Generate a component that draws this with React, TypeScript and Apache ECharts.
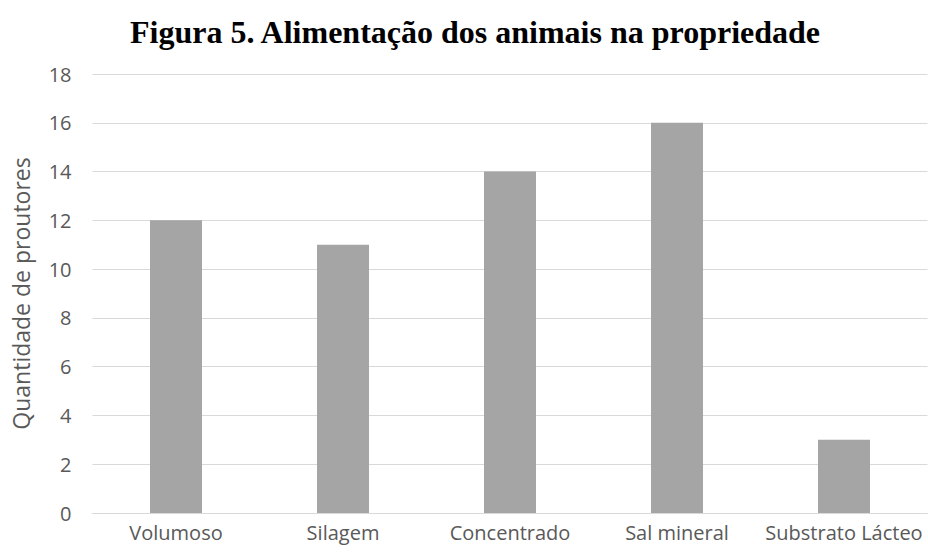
import React, { useEffect, useRef } from "react";
import * as echarts from "echarts";

const categories = ["Volumoso", "Silagem", "Concentrado", "Sal mineral", "Substrato Lácteo"];
const values = [12, 11, 14, 16, 3];
const titleText = "Figura 5. Alimentação dos animais na propriedade";
const yAxisName = "Quantidade de proutores";

export default function App() {
  const ref = useRef<HTMLDivElement>(null);
  useEffect(() => {
    const chart = echarts.init(ref.current!, undefined, { renderer: "svg" });
    const font = "'Open Sans', 'Noto Sans', sans-serif";
    chart.setOption({
      animation: false,
      backgroundColor: "#ffffff",
      title: {
        text: titleText,
        left: 470,
        textAlign: "center",
        top: 11,
        textStyle: { fontFamily: "'Liberation Serif', 'Times New Roman', serif", fontWeight: "bold", fontSize: 32, color: "#000000" },
      },
      grid: { left: 92.5, right: 0.5, top: 74, bottom: 40, containLabel: false },
      xAxis: {
        type: "category",
        data: categories,
        axisLine: { lineStyle: { color: "#d9d9d9", width: 1 } },
        axisTick: { show: false },
        axisLabel: { color: "#595959", fontSize: 20, fontFamily: font, margin: 9, interval: 0 },
      },
      yAxis: {
        type: "value",
        min: 0,
        max: 18,
        interval: 2,
        name: yAxisName,
        nameLocation: "middle",
        nameGap: 60,
        nameTextStyle: { color: "#595959", fontSize: 23, fontFamily: font },
        axisLine: { show: false },
        axisTick: { show: false },
        axisLabel: { color: "#595959", fontSize: 20, fontFamily: font, margin: 21 },
        splitLine: { lineStyle: { color: "#d9d9d9", width: 1 } },
      },
      series: [
        {
          type: "bar",
          data: values,
          barWidth: 52,
          itemStyle: { color: "#a5a5a5" },
        },
      ],
    });
    return () => chart.dispose();
  }, []);
  return <div ref={ref} style={{ width: 928, height: 553, position: "absolute", left: 0, top: 0 }} />;
}
